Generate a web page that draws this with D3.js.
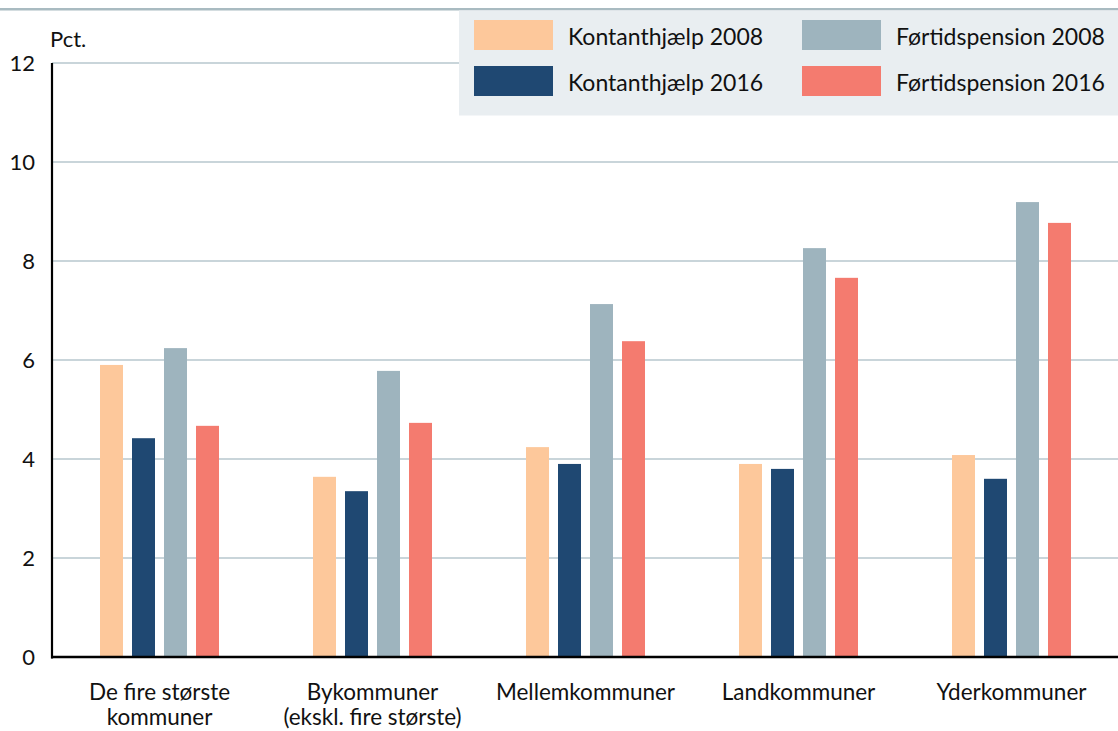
<!DOCTYPE html>
<html><head><meta charset="utf-8">
<script src="https://cdn.jsdelivr.net/npm/d3@7"></script>
<style>
html,body{margin:0;padding:0;background:#fff;}
svg{display:block;font-family:Lato, "Noto Sans", sans-serif;}
</style></head>
<body><svg id="c" width="1118" height="731"></svg>
<script>
const categories = [["De fire største","kommuner"],["Bykommuner","(ekskl. fire største)"],["Mellemkommuner"],["Landkommuner"],["Yderkommuner"]];
const seriesNames = ["Kontanthjælp 2008","Kontanthjælp 2016","Førtidspension 2008","Førtidspension 2016"];
const kontant2008 = [5.90, 3.64, 4.24, 3.90, 4.08];
const kontant2016 = [4.42, 3.35, 3.90, 3.80, 3.60];
const fortid2008 = [6.24, 5.78, 7.13, 8.26, 9.19];
const fortid2016 = [4.67, 4.73, 6.38, 7.66, 8.77];
const yTicks = [0, 2, 4, 6, 8, 10, 12];
const colors = ["#fdc89b","#1f4872","#9eb4be","#f47b6f"];

(function(){
const series = [kontant2008, kontant2016, fortid2008, fortid2016];
const svg = d3.select("#c");
const pL = 52, pR = 1118, pT = 63, pB = 657;

const x0 = d3.scaleBand().domain(d3.range(categories.length)).range([pL + 1, pR]).padding(0);
const x1 = d3.scaleBand().domain(d3.range(series.length)).range([0, 119]).paddingInner(9/32).paddingOuter(0);
const y = d3.scaleLinear().domain([0, 12]).range([pB, pT]);

// top rule
svg.append("rect").attr("x",0).attr("y",8).attr("width",1118).attr("height",2.5).attr("fill","#a9bbc1");

// gridlines
svg.append("g").selectAll("line").data(yTicks.filter(d=>d>0)).join("line")
  .attr("x1",pL).attr("x2",1118).attr("y1",d=>y(d)).attr("y2",d=>y(d))
  .attr("stroke","#b7c7ce").attr("stroke-width",1.6);

// y labels
svg.append("g").selectAll("text").data(yTicks).join("text")
  .attr("x",35).attr("y",d=>y(d)+8).attr("text-anchor","end")
  .attr("font-size",22).attr("fill","#111").text(d=>d);
svg.append("text").attr("x",50).attr("y",47).attr("font-size",22).attr("fill","#111").text("Pct.");

// bars
const groups = svg.append("g").selectAll("g").data(categories).join("g")
  .attr("transform",(d,i)=>`translate(${x0(i) + x0.bandwidth()/2 - 59.5},0)`);
groups.selectAll("rect").data((d,i)=>series.map((s,j)=>({j, v:s[i]}))).join("rect")
  .attr("x",d=>x1(d.j)).attr("width",x1.bandwidth())
  .attr("y",d=>y(d.v)).attr("height",d=>pB - y(d.v))
  .attr("fill",d=>colors[d.j]);

// axes
svg.append("line").attr("x1",pL).attr("x2",pL).attr("y1",pT).attr("y2",pB+1.5)
  .attr("stroke","#000").attr("stroke-width",2.2);
svg.append("line").attr("x1",pL-1).attr("x2",1118).attr("y1",pB).attr("y2",pB)
  .attr("stroke","#000").attr("stroke-width",2.6);

// x labels
const xl = svg.append("g").selectAll("text").data(categories).join("text")
  .attr("x",(d,i)=>x0(i)+x0.bandwidth()/2).attr("y",700)
  .attr("text-anchor","middle").attr("font-size",22.5).attr("fill","#111");
xl.selectAll("tspan").data(d=>d).join("tspan")
  .attr("x",function(){return this.parentNode.getAttribute("x");})
  .attr("dy",(d,i)=>i===0?0:25).text(d=>d);

// legend
const lg = svg.append("g");
lg.append("rect").attr("x",459).attr("y",10.5).attr("width",659).attr("height",105).attr("fill","#e9eef1");
const legPos = [[474,20],[474,66],[802,20],[802,66]];
seriesNames.forEach((n,i)=>{
  lg.append("rect").attr("x",legPos[i][0]).attr("y",legPos[i][1]).attr("width",79).attr("height",30).attr("fill",colors[i]);
  lg.append("text").attr("x",legPos[i][0]+94).attr("y",legPos[i][1]+25).attr("font-size",23).attr("fill","#111").text(n);
});
})();
</script></body></html>
